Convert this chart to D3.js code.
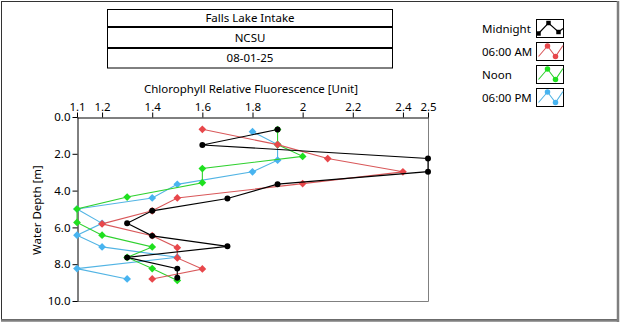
<!DOCTYPE html>
<html>
<head>
<meta charset="utf-8">
<script src="https://cdn.jsdelivr.net/npm/d3@7"></script>
<style>
  html, body { margin: 0; padding: 0; background: #fff; }
  svg { display: block; }
  text { font-family: "Noto Sans", "Open Sans", sans-serif; fill: #000; }
</style>
</head>
<body>
<svg id="chart" width="620" height="324"></svg>
<script>
// Header rows
const headerLines = ["Falls Lake Intake", "NCSU", "08-01-25"];

// Axis ticks
const xTicks = [1.1, 1.2, 1.4, 1.6, 1.8, 2, 2.2, 2.4, 2.5];
const xTickLabels = ["1.1", "1.2", "1.4", "1.6", "1.8", "2", "2.2", "2.4", "2.5"];
const yTicks = [0, 2, 4, 6, 8, 10];
const yTickLabels = ["0.0", "2.0", "4.0", "6.0", "8.0", "10.0"];

// Profiles: fluorescence value and depth (m) for each cast
const seriesNames = ["Midnight", "06:00 AM", "Noon", "06:00 PM"];
const midnightValue = [1.9, 1.6, 2.5, 2.5, 1.9, 1.7, 1.4, 1.3, 1.4, 1.7, 1.3, 1.5, 1.5];
const midnightDepth = [0.68, 1.52, 2.25, 2.97, 3.65, 4.43, 5.1, 5.78, 6.46, 7.03, 7.63, 8.24, 8.74];
const morningValue = [1.6, 1.9, 2.1, 2.4, 2.0, 1.5, 1.4, 1.2, 1.4, 1.5, 1.5, 1.6, 1.4];
const morningDepth = [0.67, 1.5, 2.26, 2.98, 3.62, 4.4, 5.1, 5.81, 6.45, 7.1, 7.66, 8.26, 8.8];
const noonValue = [1.9, 1.9, 2.0, 1.6, 1.6, 1.3, 1.1, 1.1, 1.2, 1.4, 1.3, 1.4, 1.5];
const noonDepth = [0.68, 1.5, 2.14, 2.8, 3.57, 4.35, 5.0, 5.73, 6.42, 7.06, 7.63, 8.24, 8.88];
const eveningValue = [1.8, 1.9, 1.9, 1.8, 1.5, 1.4, 1.1, 1.2, 1.1, 1.2, 1.5, 1.1, 1.3];
const eveningDepth = [0.8, 1.5, 2.35, 2.98, 3.66, 4.4, 5.0, 5.78, 6.42, 7.06, 7.62, 8.24, 8.8];

// Square-on-point diamond marker
const rhombus = {
  draw(ctx, size) {
    const r = Math.sqrt(size / 2);
    ctx.moveTo(0, -r); ctx.lineTo(r, 0); ctx.lineTo(0, r); ctx.lineTo(-r, 0); ctx.closePath();
  }
};

const styles = {
  "Midnight": { line: "#000000", mark: "#000000", shape: d3.symbolCircle, size: 28 },
  "06:00 AM": { line: "#d9585a", mark: "#e8474b", shape: rhombus, size: 30 },
  "Noon":     { line: "#2fd12f", mark: "#1fe01f", shape: rhombus, size: 30 },
  "06:00 PM": { line: "#52b4e4", mark: "#48b4f0", shape: rhombus, size: 30 }
};

const series = [
  { name: "Midnight", values: midnightValue, depths: midnightDepth },
  { name: "06:00 AM", values: morningValue, depths: morningDepth },
  { name: "Noon", values: noonValue, depths: noonDepth },
  { name: "06:00 PM", values: eveningValue, depths: eveningDepth }
];

const svg = d3.select("#chart");

// Outer panel frame
svg.append("rect").attr("x", 1.5).attr("y", 1.5).attr("width", 616).attr("height", 318)
  .attr("fill", "none").attr("stroke", "#333").attr("stroke-width", 1);
svg.append("line").attr("x1", 618).attr("x2", 618).attr("y1", 1).attr("y2", 322)
  .attr("stroke", "#7f7f7f").attr("stroke-width", 2.5);
svg.append("line").attr("x1", 1).attr("x2", 619).attr("y1", 320.5).attr("y2", 320.5)
  .attr("stroke", "#7f7f7f").attr("stroke-width", 2.5);

// Header boxes
const rowTop = [9.5, 27.5, 48.5];
const rowH = [17, 20, 19.5];
headerLines.forEach((t, i) => {
  svg.append("rect").attr("x", 107.5).attr("y", rowTop[i]).attr("width", 285).attr("height", rowH[i])
    .attr("fill", "#fff").attr("stroke", "#000");
  svg.append("text").attr("x", 250).attr("y", rowTop[i] + rowH[i] / 2)
    .attr("dy", "0.36em").attr("text-anchor", "middle").attr("font-size", 11.5).text(t);
});

// Scales
const x = d3.scaleLinear().domain([1.1, 2.5]).range([77, 428]);
const y = d3.scaleLinear().domain([0, 10]).range([117, 301]);

// Plot background and right/bottom frame
svg.append("rect").attr("x", 77).attr("y", 117).attr("width", 351).attr("height", 184).attr("fill", "#fff");
svg.append("line").attr("x1", 428.5).attr("x2", 428.5).attr("y1", 117).attr("y2", 301.5)
  .attr("stroke", "#808080");
svg.append("line").attr("x1", 77).attr("x2", 428.5).attr("y1", 301.5).attr("y2", 301.5)
  .attr("stroke", "#808080");

// Axes
const xAxis = d3.axisTop(x).tickValues(xTicks).tickFormat((d, i) => xTickLabels[i])
  .tickSize(5).tickSizeOuter(0).tickPadding(2);
const gx = svg.append("g").attr("transform", "translate(0,117.5)").call(xAxis);
const yAxis = d3.axisLeft(y).tickValues(yTicks).tickFormat((d, i) => yTickLabels[i])
  .tickSize(5).tickSizeOuter(0).tickPadding(2);
const gy = svg.append("g").attr("transform", "translate(77.5,0)").call(yAxis);
[gx, gy].forEach(g => {
  g.selectAll("text").attr("font-family", "\"Noto Sans\", sans-serif").attr("font-size", 11.5).attr("fill", "#000");
  g.selectAll("line").attr("stroke", "#000");
  g.select(".domain").attr("stroke", "#000");
});

// Axis titles
svg.append("text").attr("x", 251).attr("y", 89).attr("dy", "0.36em")
  .attr("text-anchor", "middle").attr("font-size", 11.5)
  .text("Chlorophyll Relative Fluorescence [Unit]");
svg.append("text").attr("transform", "translate(37,210) rotate(-90)").attr("dy", "0.36em")
  .attr("text-anchor", "middle").attr("font-size", 11.5).text("Water Depth [m]");

// Profiles, drawn so Midnight ends up on top
const line = d3.line().x(d => x(d[0])).y(d => y(d[1]));
const plot = svg.append("g");
series.slice().reverse().forEach(s => {
  const st = styles[s.name];
  const pts = s.values.map((v, i) => [v, s.depths[i]]);
  plot.append("path").datum(pts).attr("d", line)
    .attr("fill", "none").attr("stroke", st.line).attr("stroke-width", 1.1);
  plot.selectAll(null).data(pts).enter().append("path")
    .attr("transform", d => `translate(${x(d[0])},${y(d[1])})`)
    .attr("d", d3.symbol().type(st.shape).size(st.size))
    .attr("fill", st.mark);
});

// Legend
const legendY = [19.5, 42.5, 65.5, 88.5];
series.forEach((s, i) => {
  const st = styles[s.name];
  const top = legendY[i];
  svg.append("text").attr("x", 482).attr("y", top + 9).attr("dy", "0.36em")
    .attr("font-size", 11.5).text(s.name);
  const g = svg.append("g").attr("transform", `translate(536.5,${top})`);
  g.append("rect").attr("width", 27).attr("height", 18).attr("fill", "#fff").attr("stroke", "#000");
  let icon, marks;
  if (s.name === "Midnight") {
    icon = [[2, 14], [12, 3.5], [22, 12.5], [26.5, 9]];
    marks = icon.slice(0, 3);
  } else {
    icon = [[2, 14], [11, 3.5], [19, 14], [26.5, 3]];
    marks = icon.slice(1, 3);
  }
  g.append("path").attr("d", d3.line()(icon)).attr("fill", "none").attr("stroke", st.line).attr("stroke-width", 1.1);
  g.selectAll(null).data(marks).enter().append("path")
    .attr("transform", d => `translate(${d[0]},${d[1]})`)
    .attr("d", d3.symbol().type(s.name === "Midnight" ? d3.symbolSquare : d3.symbolCircle).size(s.name === "Midnight" ? 20 : 24))
    .attr("fill", st.mark);
});
</script>
</body>
</html>
